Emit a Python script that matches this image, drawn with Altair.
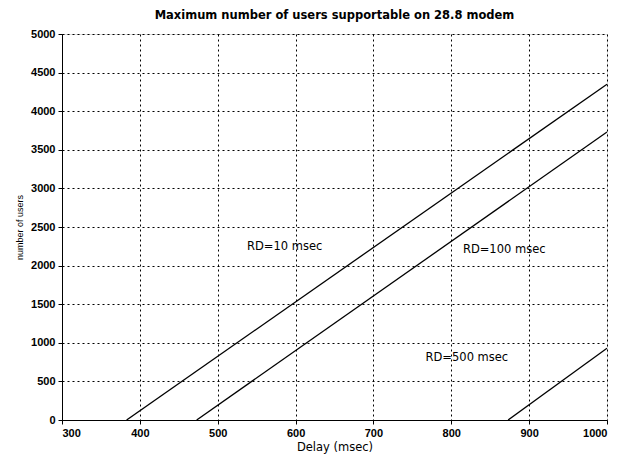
import altair as alt
import pandas as pd

series = ["RD=10 msec", "RD=10 msec", "RD=100 msec", "RD=100 msec", "RD=500 msec", "RD=500 msec"]
delay = [383, 1000, 473, 1000, 873, 1000]
users = [0, 4350, 0, 3730, 0, 930]

label_text = ["RD=10 msec", "RD=100 msec", "RD=500 msec"]
label_x = [586, 868, 820]
label_y = [2240, 2200, 800]

x_ticks = [300, 400, 500, 600, 700, 800, 900, 1000]
y_ticks = [0, 500, 1000, 1500, 2000, 2500, 3000, 3500, 4000, 4500, 5000]

df = pd.DataFrame({"series": series, "delay": delay, "users": users})
lab = pd.DataFrame({"text": label_text, "x": label_x, "y": label_y})

font = "Liberation Sans"
wide = "DejaVu Sans"

xscale = alt.Scale(domain=[300, 1000], nice=False, zero=False)
yscale = alt.Scale(domain=[0, 5000], nice=False)

xaxis = alt.Axis(values=x_ticks, title="Delay (msec)", format="d",
                 grid=True, gridColor="black", gridDash=[2, 3], gridWidth=1, gridOpacity=1,
                 domainColor="black", tickColor="black", tickSize=4, labelOverlap=False,
                 labelFont=font, labelFontSize=11, labelFontWeight="bold", labelColor="black",
                 titleFont=wide, titleFontSize=11.5, titleFontWeight="normal", titleColor="black",
                 labelPadding=3, titlePadding=3)
yaxis = alt.Axis(values=y_ticks, title="number of users", format="d",
                 grid=True, gridColor="black", gridDash=[2, 3], gridWidth=1, gridOpacity=1,
                 domainColor="black", tickColor="black", tickSize=4, labelOverlap=False,
                 labelFont=font, labelFontSize=11, labelFontWeight="bold", labelColor="black",
                 titleFont=font, titleFontSize=9, titleFontWeight="normal", titleColor="black",
                 labelPadding=3, titlePadding=6)

lines = alt.Chart(df).mark_line(color="black", strokeWidth=1.3, clip=True).encode(
    x=alt.X("delay:Q", scale=xscale, axis=xaxis),
    y=alt.Y("users:Q", scale=yscale, axis=yaxis),
    detail="series:N",
)

texts = alt.Chart(lab).mark_text(font=wide, fontSize=11.5, fontWeight="normal", color="black").encode(
    x=alt.X("x:Q", scale=xscale, axis=xaxis),
    y=alt.Y("y:Q", scale=yscale, axis=yaxis),
    text="text:N",
)

chart = alt.layer(lines, texts).properties(
    width=545, height=386,
    title=alt.TitleParams("Maximum number of users supportable on 28.8 modem",
                          font=wide, fontSize=11.5, fontWeight="bold", color="black", offset=7),
    autosize=alt.AutoSizeParams(type="none"),
    padding={"left": 54, "top": 26, "right": 8, "bottom": 35},
).configure_view(stroke="black", strokeWidth=1.2).configure(background="white")

chart.save("out.html", embed_options={"renderer": "svg", "actions": False})
